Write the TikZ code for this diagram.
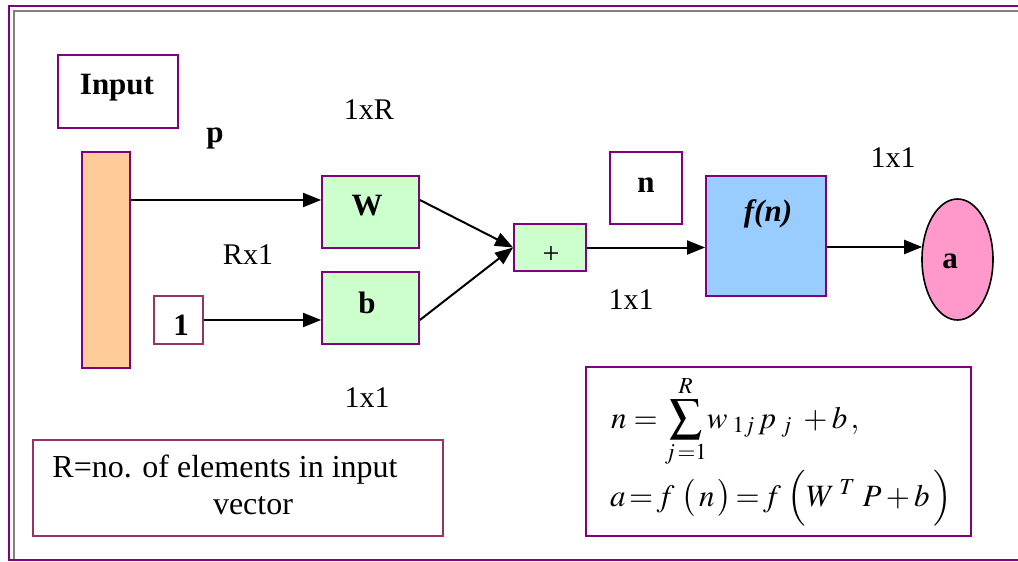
\documentclass[tikz,border=0pt]{standalone}
\usepackage{mathptmx}
\usepackage[no-math]{fontspec}
\usepackage{graphicx}
\setmainfont{Liberation Serif}
\newfontfamily\tnr{Liberation Serif}
\usetikzlibrary{arrows.meta,shapes.geometric,calc}
\definecolor{pur}{HTML}{800080}
\definecolor{mar}{HTML}{993366}
\definecolor{orng}{HTML}{FFCC99}
\definecolor{grn}{HTML}{CCFFCC}
\definecolor{blu}{HTML}{99CCFF}
\definecolor{pnk}{HTML}{FF99CC}
\definecolor{gry}{HTML}{808080}
\tikzset{
  boxst/.style={draw=pur,line width=1.8pt,inner sep=0pt,rectangle},
  lbl/.style={font=\tnr\fontsize{30}{36}\selectfont,inner sep=0pt},
  blbl/.style={font=\tnr\fontsize{31}{36}\selectfont\bfseries,inner sep=0pt},
  arr/.style={line width=2pt,-{Triangle[length=18pt,width=14pt]}},
}
\begin{document}
\begin{tikzpicture}[x=1pt,y=-1pt]
\useasboundingbox (0,0) rectangle (1018,562);
% outer frame
\draw[pur,line width=2.4pt] (1018,6) -- (9,6) -- (9,560) -- (1018,560);
\draw[gry,line width=2pt] (1018,11) -- (14,11) -- (14,559);
% boxes
\node[boxst,minimum width=120pt,minimum height=73pt] (input) at (118,91.5) {};
\node[blbl] (inputt) at (117,88) {Input};
\node[boxst,fill=orng,minimum width=48pt,minimum height=216pt] (bar) at (106,260) {};
\node[boxst,fill=grn,minimum width=97pt,minimum height=72pt] (W) at (370.5,212) {};
\node[blbl] (Wt) at (367,206) {W};
\node[boxst,fill=grn,minimum width=97pt,minimum height=72pt] (b) at (370.5,308) {};
\node[blbl] (bt) at (367,303) {b};
\node[draw=mar,line width=1.8pt,inner sep=0pt,minimum width=49pt,minimum height=48pt] (one) at (178.5,320) {};
\node[blbl] (onet) at (181,325) {1};
\node[boxst,fill=grn,minimum width=72pt,minimum height=47pt] (plus) at (550,247.5) {};
\node[lbl] (plust) at (551,255) {+};
\node[boxst,minimum width=72pt,minimum height=72pt] (nbox) at (646,188) {};
\node[blbl] (nt) at (646,185) {n};
\node[boxst,fill=blu,minimum width=120pt,minimum height=120pt] (f) at (766,236) {};
\node[blbl] (ft) at (768,214) {\itshape f(n)};
\node[ellipse,draw=black,line width=1.6pt,fill=pnk,inner sep=0pt,minimum width=71pt,minimum height=121pt] (a) at (957.5,259.5) {};
\node[blbl] (at) at (950,261) {a};
% labels
\node[blbl] (p) at (215,138) {p};
\node[lbl] (d1) at (369,110) {1xR};
\node[lbl] (d2) at (248,255) {Rx1};
\node[lbl] (d3) at (367,398) {1x1};
\node[lbl] (d4) at (631,300) {1x1};
\node[lbl] (d5) at (893,158) {1x1};
% connectors
\draw[arr] ([yshift=12pt]W.west -| bar.east) -- ([yshift=12pt]W.west);
\draw[arr] (one.east) -- (b.west |- one.east);
\draw[arr] ([yshift=12pt]W.east) -- (plus.west);
\draw[arr] ([yshift=-12pt]b.east) -- (plus.west);
\draw[arr] (plus.east) -- (f.west |- plus.east);
\coordinate (fo) at ([yshift=-11pt]f.east);
\draw[arr] (fo) -- ($(a.west |- fo)+(1,0)$);
% R box
\node[draw=mar,line width=1.8pt,minimum width=410pt,minimum height=96pt,inner sep=0pt] (rbox) at (238,488) {};
\node[font=\tnr\fontsize{32}{38}\selectfont,inner sep=0pt] (r1) at (225,470) {R=no. of elements in input};
\node[font=\tnr\fontsize{32}{38}\selectfont,inner sep=0pt] (r2) at (253,506) {vector};
% formula box
\node[boxst,minimum width=385pt,minimum height=169pt] (fbox) at (778.5,451.5) {};
\node[anchor=base west,inner sep=0pt,font=\fontsize{31}{36}\selectfont] (eq1) at (611,428) {$n = \mathop{\raisebox{-3pt}{\scalebox{1.5}{$\textstyle\sum$}}}\limits_{j\,=1}^{R}\! w_{\;1j}\, p_{\;j}\; + b\,,$};
\node[anchor=base west,inner sep=0pt,font=\fontsize{31}{36}\selectfont] (eq2) at (610,506) {$a\! =\! f\;\bigl(\,n\,\bigr)\! =\! f\;\Bigl(W^{\;T}\; P + b\,\Bigr)$};
\end{tikzpicture}
\end{document}
